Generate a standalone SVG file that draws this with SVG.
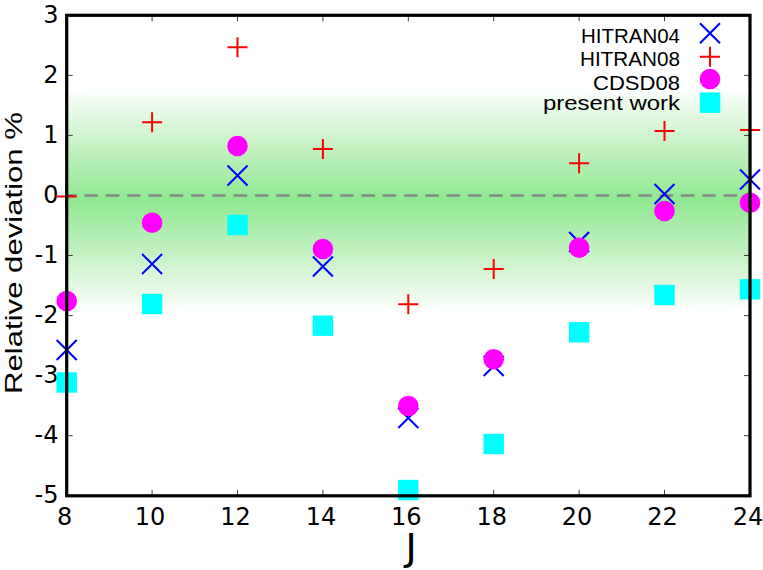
<svg xmlns="http://www.w3.org/2000/svg" xmlns:xlink="http://www.w3.org/1999/xlink" width="763" height="570" viewBox="0 0 763 570">
<style>
.tick{stroke:#404040;stroke-width:1;fill:none}
.tl{font-family:"DejaVu Sans",sans-serif;font-size:24px;fill:#000}
.lg{font-family:"Liberation Sans",Arial,sans-serif;font-size:20px;fill:#000;text-anchor:end}
.h04{stroke:#0000ff;stroke-width:2;fill:none}
.h08{stroke:#ff0000;stroke-width:2;fill:none}
.cd{fill:#ff00ff}
.pw{fill:#00ffff}
</style>
<defs>
<linearGradient id="band" x1="0" y1="0" x2="0" y2="1">
<stop offset="0" stop-color="#ffffff"/>
<stop offset="0.04" stop-color="#f3fcf3"/>
<stop offset="0.25" stop-color="#c6f2c6"/>
<stop offset="0.5" stop-color="#8fe88f"/>
<stop offset="0.75" stop-color="#c6f2c6"/>
<stop offset="0.96" stop-color="#f3fcf3"/>
<stop offset="1" stop-color="#ffffff"/>
</linearGradient>
<path id="mx" d="M-10,-10L10,10M-10,10L10,-10"/>
<path id="mp" d="M-10,0H10M0,-10V10"/>
<circle id="mc" r="10.3"/>
<rect id="ms" x="-10.2" y="-10.2" width="20.4" height="20.4"/>
</defs>
<rect width="763" height="570" fill="#ffffff"/>
<rect id="band-area" x="67" y="89" width="685" height="222" fill="url(#band)"/>
<line id="zero" x1="66.7" y1="195.5" x2="750" y2="195.5" stroke="#888888" stroke-width="2.6" stroke-dasharray="13.5 7.8" stroke-dashoffset="3.5"/>
<g id="ticks" class="tick">
<path d="M66.7,15.3h6M66.7,75.4h6M66.7,135.4h6M66.7,195.5h6M66.7,255.5h6M66.7,315.6h6M66.7,375.6h6M66.7,435.7h6M66.7,495.8h6"/>
<path d="M750,15.3h-6M750,75.4h-6M750,135.4h-6M750,195.5h-6M750,255.5h-6M750,315.6h-6M750,375.6h-6M750,435.7h-6M750,495.8h-6"/>
<path d="M152.1,495.8v-6M237.5,495.8v-6M322.9,495.8v-6M408.3,495.8v-6M493.7,495.8v-6M579.1,495.8v-6M664.5,495.8v-6"/>
<path d="M152.1,15.3v6M237.5,15.3v6M322.9,15.3v6M408.3,15.3v6M493.7,15.3v6M579.1,15.3v6M664.5,15.3v6"/>
</g>
<g id="y-tick-labels" class="tl" text-anchor="end">
<text x="58.5" y="23">3</text>
<text x="58.5" y="83">2</text>
<text x="58.5" y="143">1</text>
<text x="58.5" y="203">0</text>
<text x="58.5" y="263">-1</text>
<text x="58.5" y="323">-2</text>
<text x="58.5" y="383">-3</text>
<text x="58.5" y="443">-4</text>
<text x="58.5" y="503.3">-5</text>
</g>
<g id="x-tick-labels" class="tl" text-anchor="middle">
<text x="64.7" y="525">8</text>
<text x="150.1" y="525">10</text>
<text x="235.5" y="525">12</text>
<text x="320.9" y="525">14</text>
<text x="406.3" y="525">16</text>
<text x="491.7" y="525">18</text>
<text x="577.1" y="525">20</text>
<text x="662.5" y="525">22</text>
<text x="748" y="525">24</text>
</g>
<text id="x-label" x="411" y="560" font-family="DejaVu Sans, sans-serif" font-size="38" text-anchor="middle">J</text>
<text id="y-label" transform="translate(22,253) rotate(-90)" font-family="Liberation Sans, Arial, sans-serif" font-size="24" text-anchor="middle" textLength="282" lengthAdjust="spacingAndGlyphs">Relative deviation %</text>
<g id="HITRAN04" class="h04">
<use xlink:href="#mx" x="66.7" y="350"/>
<use xlink:href="#mx" x="152.1" y="264"/>
<use xlink:href="#mx" x="237.5" y="175.5"/>
<use xlink:href="#mx" x="322.9" y="266.5"/>
<use xlink:href="#mx" x="408.3" y="418"/>
<use xlink:href="#mx" x="493.7" y="366"/>
<use xlink:href="#mx" x="579.1" y="242"/>
<use xlink:href="#mx" x="664.5" y="194"/>
<use xlink:href="#mx" x="750" y="179.5"/>
</g>
<g id="HITRAN08" class="h08">
<use xlink:href="#mp" x="66.7" y="196.5"/>
<use xlink:href="#mp" x="152.1" y="122.3"/>
<use xlink:href="#mp" x="237.5" y="47.3"/>
<use xlink:href="#mp" x="322.9" y="149"/>
<use xlink:href="#mp" x="408.3" y="304.3"/>
<use xlink:href="#mp" x="493.7" y="269"/>
<use xlink:href="#mp" x="579.1" y="163.3"/>
<use xlink:href="#mp" x="664.5" y="131"/>
<use xlink:href="#mp" x="750" y="130"/>
</g>
<g id="CDSD08" class="cd">
<use xlink:href="#mc" x="66.7" y="301"/>
<use xlink:href="#mc" x="152.1" y="222.7"/>
<use xlink:href="#mc" x="237.5" y="146"/>
<use xlink:href="#mc" x="322.9" y="249"/>
<use xlink:href="#mc" x="408.3" y="406"/>
<use xlink:href="#mc" x="493.7" y="359.3"/>
<use xlink:href="#mc" x="579.1" y="247.7"/>
<use xlink:href="#mc" x="664.5" y="211"/>
<use xlink:href="#mc" x="750" y="202.7"/>
</g>
<g id="present-work" class="pw">
<use xlink:href="#ms" x="66.7" y="382.5"/>
<use xlink:href="#ms" x="152.1" y="304"/>
<use xlink:href="#ms" x="237.5" y="225"/>
<use xlink:href="#ms" x="322.9" y="325.7"/>
<use xlink:href="#ms" x="408.3" y="490"/>
<use xlink:href="#ms" x="493.7" y="444"/>
<use xlink:href="#ms" x="579.1" y="332.3"/>
<use xlink:href="#ms" x="664.5" y="295"/>
<use xlink:href="#ms" x="750" y="289.3"/>
</g>
<g id="legend">
<text class="lg" x="680" y="43" textLength="99" lengthAdjust="spacingAndGlyphs">HITRAN04</text>
<text class="lg" x="680" y="65.5" textLength="100" lengthAdjust="spacingAndGlyphs">HITRAN08</text>
<text class="lg" x="680" y="89.5" textLength="87" lengthAdjust="spacingAndGlyphs">CDSD08</text>
<text class="lg" x="680" y="110" textLength="137" lengthAdjust="spacingAndGlyphs">present work</text>
<use class="h04" xlink:href="#mx" x="710" y="33.3"/>
<use class="h08" xlink:href="#mp" x="710" y="56.7"/>
<use class="cd" xlink:href="#mc" x="710" y="79"/>
<use class="pw" xlink:href="#ms" x="710" y="102.7"/>
</g>
<rect id="frame" x="66.7" y="15.3" width="683.3" height="480.5" fill="none" stroke="#000000" stroke-width="3.2"/>
</svg>
